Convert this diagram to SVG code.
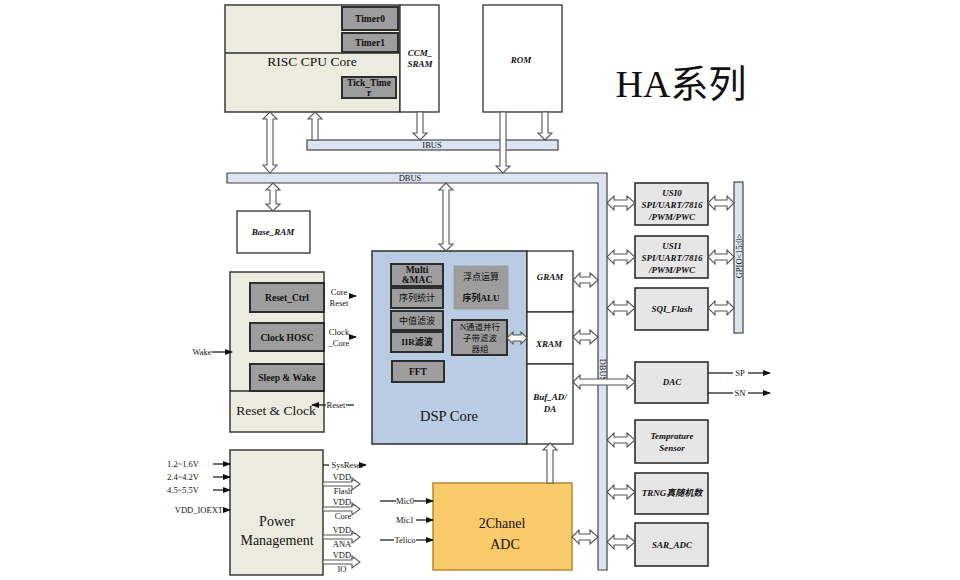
<svg xmlns="http://www.w3.org/2000/svg" width="960" height="580" viewBox="0 0 960 580">
<defs>
<style>
.beige{fill:#ecebdf;stroke:#3a3a3a;stroke-width:1.5}
.gray{fill:#9d9d9d;stroke:#2e2e2e;stroke-width:2}
.lgray{fill:#e6e6e6;stroke:#2e2e2e;stroke-width:1.6}
.white{fill:#ffffff;stroke:#2e2e2e;stroke-width:1.3}
.bus{fill:#dbe5f1;stroke:#444;stroke-width:1.2}
.ha{fill:#ffffff;stroke:#555;stroke-width:1.1}
.ln{stroke:#111;stroke-width:1.2;fill:none}
.t{font-family:"Liberation Serif","Noto Sans CJK SC",serif;fill:#111;text-anchor:middle}
.b{font-weight:bold;font-size:9.5px}
.bi{font-weight:bold;font-style:italic;font-size:9px}
.s{font-size:8.5px}
.big{font-size:14px}
</style>
<marker id="fa" markerWidth="8" markerHeight="8" refX="7" refY="4" orient="auto" markerUnits="userSpaceOnUse">
<path d="M0,1 L8,4 L0,7 Z" fill="#111"/>
</marker>
</defs>

<g id="title"><text class="t" x="681" y="97" font-size="38px">HA系列</text></g>

<g id="risc">
<rect class="beige" x="225" y="5" width="175" height="107"/>
<line x1="225" y1="53" x2="400" y2="53" stroke="#2e2e2e" stroke-width="1.5"/>
<rect class="gray" x="342" y="7" width="56" height="23"/>
<text class="t b" x="370" y="22">Timer0</text>
<rect class="gray" x="342" y="33" width="56" height="19"/>
<text class="t b" x="370" y="46">Timer1</text>
<rect class="gray" x="342" y="77" width="54" height="21"/>
<text class="t b" x="369" y="86">Tick_Time</text>
<text class="t b" x="369" y="96">r</text>
<text class="t" x="312" y="66" font-size="13.5px">RISC CPU Core</text>
</g>

<g id="ccm_sram">
<rect class="white" x="400" y="5" width="39" height="107"/>
<text class="t bi" x="420" y="56">CCM_</text>
<text class="t bi" x="420" y="67">SRAM</text>
</g>

<g id="rom">
<rect class="white" x="483" y="5" width="79" height="107"/>
<text class="t bi" x="521" y="63">ROM</text>
</g>

<g id="ibus">
<rect class="bus" x="307" y="140" width="251" height="10"/>
<text class="t s" x="432" y="148">IBUS</text>
</g>

<g id="dbus">
<path class="bus" d="M227,173 H607 V570 H598 V183 H227 Z"/>
<text class="t s" x="410" y="181">DBUS</text>
<text class="t s" transform="translate(603,370) rotate(90)" x="0" y="3">DBUS</text>
</g>

<g id="base_ram">
<rect class="white" x="237" y="211" width="73" height="42"/>
<text class="t bi" x="273" y="235">Base_RAM</text>
</g>

<g id="dsp">
<rect x="372" y="251" width="155" height="193" fill="#b9cce3" stroke="#2e2e2e" stroke-width="1.5"/>
<rect class="gray" x="391" y="264" width="52" height="22"/>
<text class="t b" x="417" y="273">Multi</text>
<text class="t b" x="417" y="283">&amp;MAC</text>
<rect class="gray" x="391" y="288" width="52" height="20"/>
<text class="t" x="417" y="301" font-size="9px">序列统计</text>
<rect class="gray" x="391" y="311" width="52" height="19"/>
<text class="t" x="417" y="324" font-size="9px">中值滤波</text>
<rect class="gray" x="391" y="332" width="52" height="20"/>
<text class="t" x="417" y="345" font-size="9px" font-weight="bold">IIR滤波</text>
<rect class="gray" x="392" y="361" width="52" height="21"/>
<text class="t b" x="418" y="375">FFT</text>
<rect x="454" y="266" width="54" height="43" fill="#9d9d9d" stroke="#9d9d9d"/>
<text class="t" x="481" y="280" font-size="9px">浮点运算</text>
<text class="t" x="481" y="301" font-size="9px" font-weight="bold">序列ALU</text>
<rect class="gray" x="452" y="320" width="55" height="35"/>
<text class="t" x="480" y="330" font-size="8.5px">N通道并行</text>
<text class="t" x="480" y="341" font-size="8.5px">子带滤波</text>
<text class="t" x="480" y="352" font-size="8.5px">器组</text>
<text class="t" x="449" y="421" font-size="14.5px">DSP Core</text>
</g>

<g id="gram">
<rect class="white" x="527" y="251" width="46" height="61"/>
<text class="t bi" x="550" y="280">GRAM</text>
</g>
<g id="xram">
<rect class="white" x="527" y="312" width="46" height="52"/>
<text class="t bi" x="549" y="347">XRAM</text>
</g>
<g id="buf">
<rect class="white" x="527" y="364" width="46" height="80"/>
<text class="t bi" x="550" y="400">Buf_AD/</text>
<text class="t bi" x="550" y="412">DA</text>
</g>

<g id="gpio">
<rect class="bus" x="734" y="182" width="9" height="151"/>
<text class="t s" transform="translate(739,256) rotate(-90)" x="0" y="3">GPIO&lt;15:0&gt;</text>
</g>

<g id="usi0">
<rect class="lgray" x="635" y="183" width="73" height="42"/>
<text class="t bi" x="672" y="196">USI0</text>
<text class="t bi" x="672" y="208">SPI/UART/7816</text>
<text class="t bi" x="672" y="220">/PWM/PWC</text>
</g>
<g id="usi1">
<rect class="lgray" x="635" y="236" width="73" height="42"/>
<text class="t bi" x="672" y="249">USI1</text>
<text class="t bi" x="672" y="261">SPI/UART/7816</text>
<text class="t bi" x="672" y="273">/PWM/PWC</text>
</g>
<g id="sqi">
<rect class="lgray" x="635" y="288" width="73" height="42"/>
<text class="t bi" x="672" y="312">SQI_Flash</text>
</g>
<g id="dac">
<rect class="lgray" x="635" y="362" width="73" height="41"/>
<text class="t bi" x="672" y="385">DAC</text>
</g>
<g id="temp">
<rect class="lgray" x="635" y="420" width="73" height="43"/>
<text class="t bi" x="672" y="439">Temprature</text>
<text class="t bi" x="672" y="451">Sensor</text>
</g>
<g id="trng">
<rect class="lgray" x="635" y="473" width="73" height="41"/>
<text class="t bi" x="672" y="496">TRNG真随机数</text>
</g>
<g id="sar">
<rect class="lgray" x="635" y="523" width="73" height="43"/>
<text class="t bi" x="672" y="548">SAR_ADC</text>
</g>

<g id="adc">
<rect x="433" y="483" width="139" height="87" fill="#f9cb6b" stroke="#b8892e" stroke-width="1.5"/>
<text class="t big" x="502" y="528">2Chanel</text>
<text class="t big" x="505" y="549">ADC</text>
</g>

<g id="reset_clock">
<rect class="beige" x="230" y="272" width="94" height="160"/>
<rect class="gray" x="250" y="283" width="74" height="29"/>
<text class="t b" x="287" y="301">Reset_Ctrl</text>
<rect class="gray" x="250" y="323" width="74" height="28"/>
<text class="t b" x="287" y="341">Clock HOSC</text>
<rect class="gray" x="250" y="364" width="74" height="27"/>
<text class="t b" x="287" y="381">Sleep &amp; Wake</text>
<line x1="230" y1="391" x2="324" y2="391" stroke="#2e2e2e" stroke-width="1.5"/>
<text class="t" x="276" y="415" font-size="13.5px">Reset &amp; Clock</text>
</g>

<g id="power">
<rect class="beige" x="230" y="450" width="93" height="125"/>
<text class="t big" x="277" y="526">Power</text>
<text class="t big" x="277" y="545">Management</text>
</g>

<g id="connectors">
<path class="ha" d="M270,112 L277,119 L273,119 L273,165 L277,165 L270,173 L263,165 L267,165 L267,119 L263,119 Z"/>
<path class="ha" d="M315,112 L322,119 L318,119 L318,140 L312,140 L312,119 L308,119 Z"/>
<path class="ha" d="M420,140 L427,133 L423,133 L423,112 L417,112 L417,133 L413,133 Z"/>
<path class="ha" d="M545,140 L552,133 L548,133 L548,112 L542,112 L542,133 L538,133 Z"/>
<path class="ha" d="M503,173 L510,166 L506,166 L506,112 L500,112 L500,166 L496,166 Z"/>
<path class="ha" d="M273,183 L280,190 L276,190 L276,204 L280,204 L273,211 L266,204 L270,204 L270,190 L266,190 Z"/>
<path class="ha" d="M446,183 L453,190 L449,190 L449,244 L453,244 L446,251 L439,244 L443,244 L443,190 L439,190 Z"/>
<path class="ha" d="M550,443 L557,450 L553,450 L553,483 L547,483 L547,450 L543,450 Z"/>

<path class="ha" d="M607,203 L614,196 L614,200 L627,200 L627,196 L635,203 L627,210 L627,206 L614,206 L614,210 Z"/>
<path class="ha" d="M607,257 L614,250 L614,254 L627,254 L627,250 L635,257 L627,264 L627,260 L614,260 L614,264 Z"/>
<path class="ha" d="M607,308 L614,301 L614,305 L627,305 L627,301 L635,308 L627,315 L627,311 L614,311 L614,315 Z"/>
<path class="ha" d="M708,203 L715,196 L715,200 L727,200 L727,196 L734,203 L727,210 L727,206 L715,206 L715,210 Z"/>
<path class="ha" d="M708,257 L715,250 L715,254 L727,254 L727,250 L734,257 L727,264 L727,260 L715,260 L715,264 Z"/>
<path class="ha" d="M708,308 L715,301 L715,305 L727,305 L727,301 L734,308 L727,315 L727,311 L715,311 L715,315 Z"/>
<path class="ha" d="M573,280 L580,273 L580,277 L590,277 L590,273 L598,280 L590,287 L590,283 L580,283 L580,287 Z"/>
<path class="ha" d="M573,337 L580,330 L580,334 L590,334 L590,330 L598,337 L590,344 L590,340 L580,340 L580,344 Z"/>
<path class="ha" d="M573,382 L580,375 L580,379 L627,379 L627,375 L635,382 L627,389 L627,385 L580,385 L580,389 Z"/>
<path class="ha" d="M507,338 L513,332 L513,335 L521,335 L521,332 L527,338 L521,344 L521,341 L513,341 L513,344 Z"/>
<path class="ha" d="M572,537 L579,530 L579,534 L590,534 L590,530 L598,537 L590,544 L590,540 L579,540 L579,544 Z"/>
<path class="ha" d="M607,440 L614,433 L614,437 L627,437 L627,433 L635,440 L627,447 L627,443 L614,443 L614,447 Z"/>
<path class="ha" d="M607,492 L614,485 L614,489 L627,489 L627,485 L635,492 L627,499 L627,495 L614,495 L614,499 Z"/>
<path class="ha" d="M607,542 L614,535 L614,539 L627,539 L627,535 L635,542 L627,549 L627,545 L614,545 L614,549 Z"/>

<line class="ln" x1="708" y1="373" x2="733" y2="373"/>
<line class="ln" x1="748" y1="373" x2="770" y2="373" marker-end="url(#fa)"/>
<text class="t s" x="740" y="376">SP</text>
<line class="ln" x1="708" y1="393" x2="733" y2="393"/>
<line class="ln" x1="748" y1="393" x2="770" y2="393" marker-end="url(#fa)"/>
<text class="t s" x="740" y="396">SN</text>

<text class="t s" x="202" y="355">Wake</text>
<line class="ln" x1="212" y1="352" x2="232" y2="352" marker-end="url(#fa)"/>
<text class="t s" x="339" y="295">Core</text>
<text class="t s" x="339" y="306">Reset</text>
<line class="ln" x1="349" y1="296" x2="356" y2="296" marker-end="url(#fa)"/>
<text class="t s" x="339" y="335">Clock</text>
<text class="t s" x="339" y="346">_Core</text>
<line class="ln" x1="350" y1="337" x2="356" y2="337" marker-end="url(#fa)"/>
<line class="ln" x1="326" y1="405" x2="312" y2="405" marker-end="url(#fa)"/>
<text class="t s" x="336" y="408">Reset</text>
<line class="ln" x1="346" y1="405" x2="354" y2="405"/>

<line class="ln" x1="380" y1="501" x2="396" y2="501"/>
<text class="t s" x="405" y="504">Mic0</text>
<line class="ln" x1="414" y1="501" x2="433" y2="501" marker-end="url(#fa)"/>
<text class="t s" x="405" y="523">Mic1</text>
<line class="ln" x1="416" y1="520" x2="433" y2="520" marker-end="url(#fa)"/>
<line class="ln" x1="380" y1="540" x2="394" y2="540"/>
<text class="t s" x="405" y="543">Telico</text>
<line class="ln" x1="416" y1="540" x2="433" y2="540" marker-end="url(#fa)"/>

<text class="t s" x="199" y="467" style="text-anchor:end">1.2~1.6V</text>
<line class="ln" x1="213" y1="464" x2="230" y2="464" marker-end="url(#fa)"/>
<text class="t s" x="199" y="480" style="text-anchor:end">2.4~4.2V</text>
<line class="ln" x1="213" y1="477" x2="230" y2="477" marker-end="url(#fa)"/>
<text class="t s" x="199" y="493" style="text-anchor:end">4.5~5.5V</text>
<line class="ln" x1="213" y1="490" x2="230" y2="490" marker-end="url(#fa)"/>
<text class="t s" x="223" y="513" style="text-anchor:end">VDD_IOEXT</text>
<line class="ln" x1="223" y1="510" x2="230" y2="510" marker-end="url(#fa)"/>

<line class="ln" x1="323" y1="465" x2="329" y2="465"/>
<text class="t s" x="347" y="468">SysReset</text>
<line class="ln" x1="364" y1="465" x2="366" y2="465" marker-end="url(#fa)"/>
<path class="ha" d="M323,482 L352,482 L352,478 L360,484 L352,490 L352,486 L323,486 Z"/>
<text class="t s" x="344" y="480">VDD_</text>
<text class="t s" x="343" y="494">Flash</text>
<path class="ha" d="M323,507 L352,507 L352,503 L360,509 L352,515 L352,511 L323,511 Z"/>
<text class="t s" x="344" y="505">VDD_</text>
<text class="t s" x="343" y="519">Core</text>
<path class="ha" d="M323,535 L352,535 L352,531 L360,537 L352,543 L352,539 L323,539 Z"/>
<text class="t s" x="344" y="533">VDD_</text>
<text class="t s" x="342" y="547">ANA</text>
<path class="ha" d="M323,560 L352,560 L352,556 L360,562 L352,568 L352,564 L323,564 Z"/>
<text class="t s" x="344" y="558">VDD_</text>
<text class="t s" x="342" y="572">IO</text>
</g>
</svg>
